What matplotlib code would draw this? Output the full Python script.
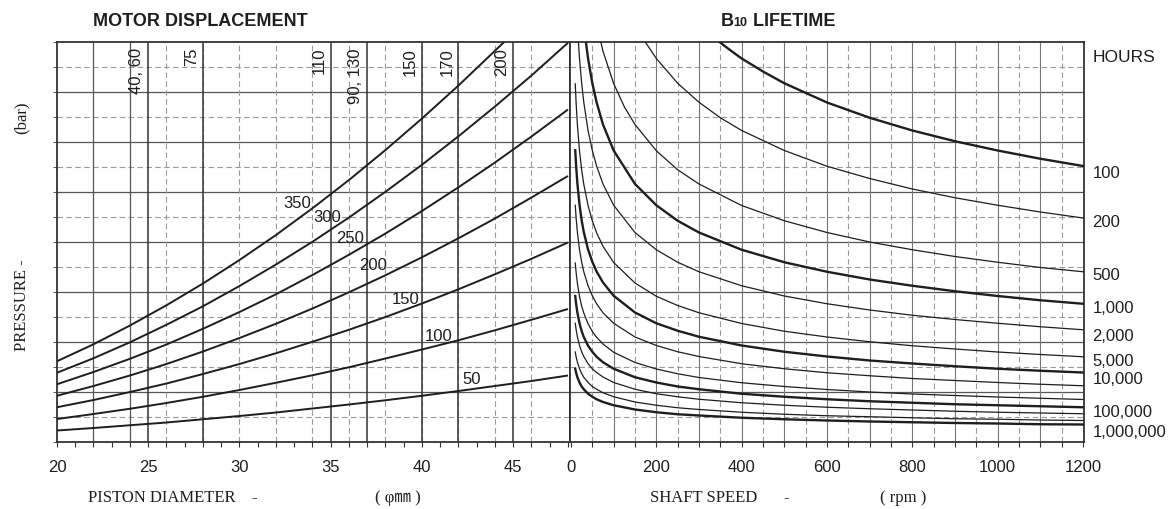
import matplotlib
matplotlib.use("Agg")
import matplotlib.pyplot as plt
from matplotlib.ticker import MultipleLocator, FixedLocator, NullFormatter
from matplotlib.offsetbox import TextArea, HPacker, AnnotationBbox

# ---------------- data ----------------
# Left panel: pressure-scale level vs. piston diameter (mm), one curve per pressure (bar)
pressures = [50, 100, 150, 200, 250, 300, 350]
diam_pts = [20, 22, 24, 26, 28, 30, 32, 34, 36, 38, 40, 42, 44, 46, 48]
p50 = [0.46, 0.56, 0.67, 0.78, 0.91, 1.04, 1.18, 1.34, 1.50, 1.67, 1.85, 2.04, 2.24, 2.44, 2.66]
p100 = [0.92, 1.12, 1.33, 1.56, 1.81, 2.08, 2.37, 2.67, 2.99, 3.34, 3.70, 4.07, 4.47, 4.89, 5.32]
p150 = [1.39, 1.68, 2.00, 2.34, 2.72, 3.12, 3.55, 4.01, 4.49, 5.00, 5.54, 6.11, 6.71, 7.33, 7.98]
p200 = [1.85, 2.24, 2.66, 3.12, 3.62, 4.16, 4.73, 5.34, 5.99, 6.67, 7.39, 8.15, 8.94, 9.78, 10.64]
p250 = [2.31, 2.80, 3.33, 3.90, 4.53, 5.20, 5.91, 6.68, 7.49, 8.34, 9.24, 10.19, 11.18, 12.22, 13.30]
p300 = [2.77, 3.35, 3.99, 4.69, 5.43, 6.24, 7.10, 8.01, 8.98, 10.01, 11.09, 12.23, 13.42, 14.66, 15.97]
diam_pts_350 = [20, 22, 24, 26, 28, 30, 32, 34, 36, 38, 40, 42, 44, 44.5]
p350 = [3.23, 3.91, 4.66, 5.47, 6.34, 7.28, 8.28, 9.35, 10.48, 11.68, 12.94, 14.26, 15.65, 16.0]

# Motor displacement markers (piston diameter, label)
displacement_diam = [25, 28, 35, 37, 40, 42, 45]
displacement_labels = ["40, 60", "75", "110", "90, 130", "150", "170", "200"]

# Right panel: B10 lifetime curves, shaft speed (rpm) vs. pressure-scale level
h100_n = [348, 375, 400, 450, 500, 600, 700, 800, 900, 1000, 1100, 1200]
h100_u = [16.0, 15.65, 15.34, 14.82, 14.35, 13.58, 12.97, 12.46, 12.03, 11.66, 11.33, 11.04]
h200_n = [174, 200, 250, 300, 350, 400, 500, 600, 700, 800, 900, 1000, 1100, 1200]
h200_u = [16.0, 15.34, 14.35, 13.59, 12.97, 12.46, 11.66, 11.03, 10.54, 10.12, 9.77, 9.47, 9.20, 8.96]
h500_n = [70, 75, 100, 125, 150, 200, 250, 300, 400, 500, 600, 700, 800, 900, 1000, 1100, 1200]
h500_u = [16.0, 15.63, 14.34, 13.41, 12.70, 11.65, 10.89, 10.32, 9.46, 8.85, 8.38, 8.00, 7.69, 7.42,
          7.19, 6.98, 6.81]
h1k_n = [35, 40, 50, 60, 75, 100, 150, 200, 250, 300, 400, 500, 600, 700, 800, 900, 1000, 1100, 1200]
h1k_u = [16.0, 15.34, 14.35, 13.59, 12.70, 11.66, 10.32, 9.47, 8.85, 8.38, 7.69, 7.19, 6.81, 6.50,
         6.25, 6.03, 5.84, 5.67, 5.53]
h2k_n = [17.4, 20, 25, 30, 40, 50, 60, 75, 100, 150, 200, 250, 300, 400, 500, 600, 700, 800, 900,
         1000, 1100, 1200]
h2k_u = [16.0, 15.35, 14.35, 13.59, 12.46, 11.66, 11.04, 10.32, 9.47, 8.38, 7.69, 7.19, 6.81, 6.25,
         5.84, 5.53, 5.28, 5.07, 4.90, 4.75, 4.61, 4.49]
speed_pts = [10, 12, 15, 20, 25, 30, 40, 50, 60, 75, 100, 150, 200, 250, 300, 400, 500, 600, 700,
             800, 900, 1000, 1100, 1200]
h5k_u = [14.33, 13.57, 12.69, 11.64, 10.89, 10.31, 9.46, 8.85, 8.37, 7.83, 7.18, 6.36, 5.83, 5.46,
         5.17, 4.74, 4.43, 4.20, 4.01, 3.85, 3.72, 3.60, 3.50, 3.41]
h10k_u = [11.67, 11.06, 10.34, 9.49, 8.87, 8.40, 7.70, 7.21, 6.82, 6.38, 5.85, 5.18, 4.75, 4.45,
          4.21, 3.86, 3.61, 3.42, 3.26, 3.14, 3.03, 2.93, 2.85, 2.78]
h20k_u = [9.47, 8.97, 8.39, 7.69, 7.20, 6.81, 6.25, 5.85, 5.53, 5.17, 4.75, 4.20, 3.86, 3.61, 3.42,
          3.13, 2.93, 2.77, 2.65, 2.54, 2.46, 2.38, 2.31, 2.25]
h50k_u = [7.16, 6.79, 6.35, 5.82, 5.44, 5.16, 4.73, 4.42, 4.19, 3.92, 3.59, 3.18, 2.92, 2.73, 2.58,
          2.37, 2.22, 2.10, 2.00, 1.92, 1.86, 1.80, 1.75, 1.70]
h100k_u = [5.84, 5.53, 5.17, 4.75, 4.44, 4.20, 3.85, 3.61, 3.41, 3.19, 2.93, 2.59, 2.38, 2.22, 2.11,
           1.93, 1.81, 1.71, 1.63, 1.57, 1.51, 1.47, 1.43, 1.39]
h200k_u = [4.75, 4.50, 4.21, 3.86, 3.61, 3.42, 3.13, 2.93, 2.78, 2.60, 2.38, 2.11, 1.93, 1.81, 1.71,
           1.57, 1.47, 1.39, 1.33, 1.28, 1.23, 1.19, 1.16, 1.13]
h500k_u = [3.60, 3.41, 3.19, 2.93, 2.74, 2.59, 2.38, 2.22, 2.11, 1.97, 1.81, 1.60, 1.47, 1.37, 1.30,
           1.19, 1.11, 1.05, 1.01, 0.97, 0.93, 0.91, 0.88, 0.86]
h1m_u = [2.93, 2.77, 2.59, 2.38, 2.22, 2.11, 1.93, 1.81, 1.71, 1.60, 1.47, 1.30, 1.19, 1.11, 1.06,
         0.97, 0.91, 0.86, 0.82, 0.79, 0.76, 0.74, 0.71, 0.70]

life_labels = ["100", "200", "500", "1,000", "2,000", "5,000", "10,000", "100,000", "1,000,000"]
left_ticks = [20, 25, 30, 35, 40, 45]
right_ticks = [0, 200, 400, 600, 800, 1000, 1200]

# ---------------- figure ----------------
W, H = 1176, 510
fig = plt.figure(figsize=(W / 100, H / 100), dpi=100)
fig.patch.set_facecolor("white")

axL = fig.add_axes([57 / W, 67 / H, 513 / W, 400 / H])
axR = fig.add_axes([570 / W, 67 / H, 514 / W, 400 / H])
axL.set_xlim(20, 48.11)
axR.set_xlim(-2.3, 1202.3)
for ax in (axL, axR):
    ax.set_ylim(0, 16)
    for sp in ax.spines.values():
        sp.set_linewidth(1.3)
        sp.set_color("#333333")
    # horizontal grid: solid on even levels, dashed on odd levels
    for lev in range(1, 16):
        if lev % 2 == 0:
            ax.axhline(lev, color="#555555", lw=0.9, zorder=1)
        else:
            ax.axhline(lev, color="#9a9a9a", lw=0.8, ls=(0, (5, 3)), zorder=1)

SANS = ["Liberation Sans", "DejaVu Sans"]
SERIF = ["Liberation Serif", "Noto Sans CJK KR", "DejaVu Sans"]
INK = "#1e1e1e"

# left vertical grid every 2 mm
for d in range(22, 48, 2):
    if d in (22, 24):
        axL.axvline(d, color="#555555", lw=0.9, zorder=1)
    else:
        axL.axvline(d, color="#9a9a9a", lw=0.8, ls=(0, (5, 3)), zorder=1)
# motor displacement lines + labels
for d, lab in zip(displacement_diam, displacement_labels):
    axL.axvline(d, color="#333333", lw=1.1, zorder=2)
    axL.text(d - 0.22, 15.8, lab, rotation=90, ha="right", va="top",
             fontsize=12, family=SANS, color=INK, zorder=4)

# pressure curves
left_series = [(diam_pts, p50), (diam_pts, p100), (diam_pts, p150), (diam_pts, p200),
               (diam_pts, p250), (diam_pts, p300), (diam_pts_350, p350)]
for xs, ys in left_series:
    axL.plot(xs, ys, color=INK, lw=1.4, zorder=3, solid_capstyle="butt")

# pressure labels on curves
press_label_pos = [(42.7, 2.52), (40.9, 4.24), (39.1, 5.72), (37.3, 7.12),
                   (36.05, 8.16), (34.8, 9.0), (33.15, 9.6)]
for p, (x, y) in zip(pressures, press_label_pos):
    axL.text(x, y, str(p), ha="center", va="center", fontsize=12,
             family=SANS, color=INK, zorder=4)

# right vertical grid every 50 rpm
for n in range(50, 1200, 50):
    if n % 100 == 0:
        axR.axvline(n, color="#777777", lw=0.8, zorder=1)
    else:
        axR.axvline(n, color="#9a9a9a", lw=0.8, ls=(0, (5, 3)), zorder=1)

right_series = [
    (h100_n, h100_u, True), (h200_n, h200_u, False), (h500_n, h500_u, False),
    (h1k_n, h1k_u, True), (h2k_n, h2k_u, False), (speed_pts, h5k_u, False),
    (speed_pts, h10k_u, True), (speed_pts, h20k_u, False), (speed_pts, h50k_u, False),
    (speed_pts, h100k_u, True), (speed_pts, h200k_u, False), (speed_pts, h500k_u, False),
    (speed_pts, h1m_u, True),
]
for xs, ys, bold in right_series:
    axR.plot(xs, ys, color=INK, lw=1.7 if bold else 0.9, zorder=3)

life_label_y = [10.76, 8.8, 6.72, 5.36, 4.24, 3.24, 2.52, 1.2, 0.4]
for lab, y in zip(life_labels, life_label_y):
    axR.text(1222, y, lab, ha="left", va="center", fontsize=12, family=SANS,
             color=INK, clip_on=False)
axR.text(1223, 15.4, "HOURS", ha="left", va="center", fontsize=12.5,
         family=SANS, color=INK, clip_on=False)

# ticks
axL.xaxis.set_major_locator(FixedLocator(left_ticks))
axL.xaxis.set_minor_locator(MultipleLocator(1))
axR.xaxis.set_major_locator(FixedLocator(right_ticks))
axR.xaxis.set_minor_locator(MultipleLocator(50))
for ax in (axL, axR):
    ax.tick_params(axis="x", which="both", direction="out", length=3.5, width=0.8,
                   color="#333333", pad=9, labelsize=12, labelcolor=INK)
    for t in ax.get_xticklabels():
        t.set_family(SANS)
axL.yaxis.set_major_locator(MultipleLocator(1))
axL.yaxis.set_major_formatter(NullFormatter())
axL.tick_params(axis="y", which="both", direction="out", length=3, width=0.7, color="#555555")
axR.set_yticks([])

# headings
fig.text(200 / W, 1 - 21 / H, "MOTOR DISPLACEMENT", ha="center", va="center",
         fontsize=13, fontweight="bold", family=SANS, color=INK)
ta_b = TextArea("B", textprops=dict(fontsize=13, fontweight="bold", family=SANS, color=INK))
ta_10 = TextArea("10", textprops=dict(fontsize=9, fontweight="bold", family=SANS, color=INK))
ta_rest = TextArea(" LIFETIME", textprops=dict(fontsize=13, fontweight="bold", family=SANS, color=INK))
pack = HPacker(children=[ta_b, ta_10, ta_rest], align="baseline", pad=0, sep=0)
ab = AnnotationBbox(pack, (778 / W, 1 - 21 / H), xycoords="figure fraction",
                    frameon=False, box_alignment=(0.5, 0.5))
fig.add_artist(ab)

# axis titles
TT = dict(fontsize=12, family=SERIF, color=INK)
fig.text(88 / W, 1 - 498 / H, "PISTON DIAMETER", ha="left", va="center", **TT)
fig.text(254 / W, 1 - 498 / H, "-", ha="center", va="center", **TT)
fig.text(398 / W, 1 - 498 / H, "( φ㎜ )", ha="center", va="center", **TT)
fig.text(650 / W, 1 - 498 / H, "SHAFT SPEED", ha="left", va="center", **TT)
fig.text(786 / W, 1 - 498 / H, "-", ha="center", va="center", **TT)
fig.text(903 / W, 1 - 498 / H, "( rpm )", ha="center", va="center", **TT)
fig.text(22 / W, 1 - 118 / H, "(bar)", rotation=90, ha="center", va="center", **TT)
fig.text(22 / W, 1 - 305 / H, "PRESSURE -", rotation=90, ha="center", va="center", **TT)

fig.savefig("out.png", dpi=100, facecolor="white")
